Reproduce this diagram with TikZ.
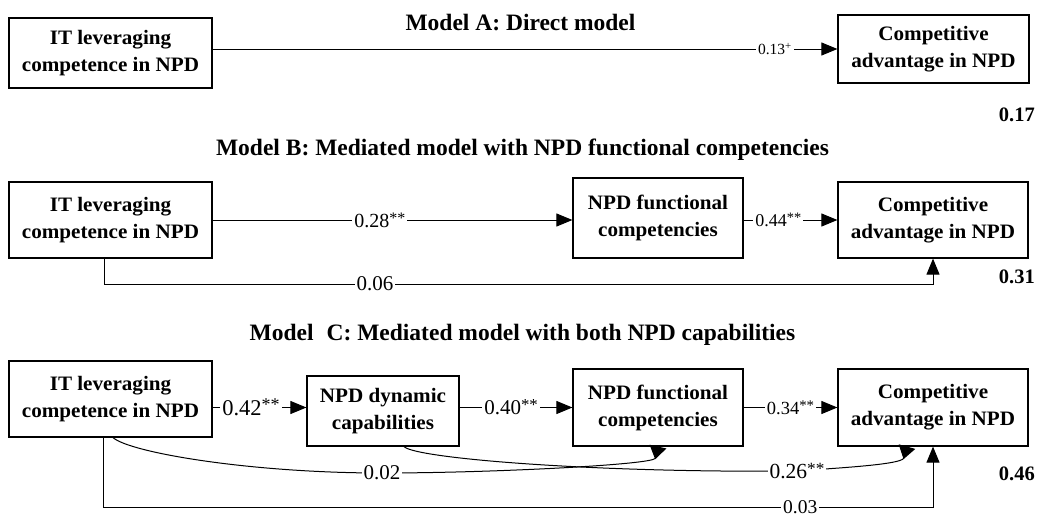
\documentclass[tikz,border=0pt]{standalone}
\usepackage{fontspec}
\setmainfont{Liberation Serif}
\usetikzlibrary{arrows.meta}
\newcommand{\twostar}{\raisebox{0.2em}{\scalebox{0.8}{**}}}
\newcommand{\fs}[1]{\fontsize{#1}{#1}\selectfont}
\begin{document}
\begin{tikzpicture}[x=1pt,y=-1pt,
  box/.style={draw, line width=1.2pt, fill=white, align=center, inner sep=0pt,
    font=\bfseries\fontsize{20.5}{27}\selectfont\addfontfeature{FakeStretch=1.03}},
  ttl/.style={anchor=base, inner sep=0pt, font=\bfseries\fs{23.5}},
  res/.style={anchor=base east, inner sep=0pt, font=\bfseries\fs{20.5}},
  lab/.style={fill=white, inner xsep=2pt, inner ysep=0.5pt, font=\fs{20}},
  conn/.style={line width=1pt},
  arr/.style={conn, -{Triangle[length=16pt,width=13pt]}},
  rarr/.style={conn, -{Triangle[reversed,length=13pt,width=17pt]}},
]
\useasboundingbox (0,0) rectangle (1039,517);

% ---------- Model A ----------
\node[ttl] (tA) at (520.5,30) {Model A: Direct model};
\node[box, minimum width=203pt, minimum height=70pt] (itA) at (110.5,53) {IT leveraging\\competence in NPD};
\node[box, minimum width=191pt, minimum height=68pt] (cA) at (933.5,49) {Competitive\\advantage in NPD};
\node[res] (rA) at (1035,121) {0.17};
\draw[arr] (itA.east |- cA.west) -- node[lab, pos=0.9, font=\fs{15.5}]{0.13\textsuperscript{+}} (cA.west);

% ---------- Model B ----------
\node[ttl] (tB) at (522.5,155) {Model B: Mediated model with NPD functional competencies};
\node[box, minimum width=203pt, minimum height=76pt] (itB) at (110.5,220) {IT leveraging\\competence in NPD};
\node[box, minimum width=170pt, minimum height=80pt] (fB) at (658,218) {NPD functional\\competencies};
\node[box, minimum width=190pt, minimum height=76pt] (cB) at (933,220) {Competitive\\advantage in NPD};
\node[res] (rB) at (1035,283) {0.31};
\coordinate (yB) at (0,284);
\coordinate (b06) at ([xshift=-6.5pt]itB.south);
\draw[arr] (itB.east) -- node[lab, pos=0.465]{0.28\twostar} (fB.west |- itB.east);
\draw[arr] (fB.east |- cB.west) -- node[lab, pos=0.37, font=\fs{18}]{0.44\twostar} (cB.west);
\draw[arr] (b06) -- (b06 |- yB) -- node[lab, pos=0.327, font=\fs{21}]{0.06} (cB.south |- yB) -- (cB.south);

% ---------- Model C ----------
\node[ttl] (tC) at (522.5,340) {Model\hspace{0.55em}C: Mediated model with both NPD capabilities};
\node[box, minimum width=203pt, minimum height=76pt] (itC) at (110.5,399) {IT leveraging\\competence in NPD};
\node[box, minimum width=152pt, minimum height=70pt] (dC) at (383,411) {NPD dynamic\\capabilities};
\node[box, minimum width=170pt, minimum height=77pt] (fC) at (658,407.5) {NPD functional\\competencies};
\node[box, minimum width=190pt, minimum height=77pt] (cC) at (933,407.5) {Competitive\\advantage in NPD};
\node[res] (rC) at (1035,480) {0.46};
\draw[arr] (itC.east |- fC.west) -- node[lab, pos=0.41, font=\fs{22.5}]{0.42\twostar} (dC.west |- fC.west);
\draw[arr] (dC.east |- fC.west) -- node[lab, pos=0.456, font=\fs{21}]{0.40\twostar} (fC.west);
\draw[arr] (fC.east) -- node[lab, pos=0.5, font=\fs{18.5}]{0.34\twostar} (cC.west);

\coordinate (yC) at (0,507);
\coordinate (b03) at ([xshift=-7.5pt]itC.south);
\draw[arr] (b03) -- (b03 |- yC) -- node[lab, pos=0.84, font=\fs{19.5}]{0.03} (cC.south |- yC) -- (cC.south);

\coordinate (b02) at ([xshift=2.5pt]itC.south);
\coordinate (m02) at (382,473);
\draw[rarr] (b02) .. controls +(17,15) and +(-132,0) .. (m02) node[lab, font=\fs{21}]{0.02}
  .. controls +(110,0) and +(-4,18) .. (fC.south);

\coordinate (b26) at ([xshift=21pt]dC.south);
\coordinate (m26) at (797,471);
\coordinate (e26) at ([xshift=-26pt]cC.south);
\draw[rarr] (b26) .. controls +(12,12) and +(-200,2) .. (m26) node[lab, font=\fs{21.5}]{0.26\twostar}
  .. controls +(40,-3) and +(-5,18) .. (e26);
\end{tikzpicture}
\end{document}
